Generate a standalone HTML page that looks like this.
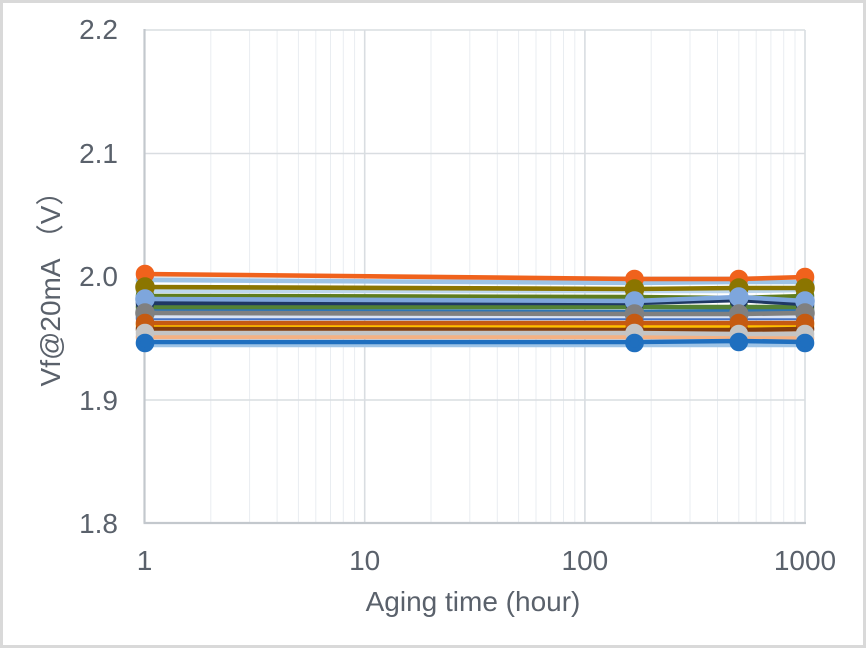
<!DOCTYPE html>
<html><head><meta charset="utf-8">
<style>
html,body{margin:0;padding:0;background:#fff;}
.wrap{position:relative;width:866px;height:648px;box-sizing:border-box;border:3px solid #d9d9d9;background:#fff;overflow:hidden;}
svg{position:absolute;left:-3px;top:-3px;}
text{font-family:"Liberation Sans","Noto Sans CJK SC",sans-serif;fill:#5a616b;}
</style></head>
<body><div class="wrap">
<svg width="866" height="648" viewBox="0 0 866 648" xmlns="http://www.w3.org/2000/svg">
<g stroke="#e9edf1" stroke-width="1">
<line x1="210.8" y1="30" x2="210.8" y2="523"/>
<line x1="249.6" y1="30" x2="249.6" y2="523"/>
<line x1="277.1" y1="30" x2="277.1" y2="523"/>
<line x1="298.4" y1="30" x2="298.4" y2="523"/>
<line x1="315.8" y1="30" x2="315.8" y2="523"/>
<line x1="330.5" y1="30" x2="330.5" y2="523"/>
<line x1="343.3" y1="30" x2="343.3" y2="523"/>
<line x1="354.6" y1="30" x2="354.6" y2="523"/>
<line x1="431.0" y1="30" x2="431.0" y2="523"/>
<line x1="469.8" y1="30" x2="469.8" y2="523"/>
<line x1="497.3" y1="30" x2="497.3" y2="523"/>
<line x1="518.6" y1="30" x2="518.6" y2="523"/>
<line x1="536.0" y1="30" x2="536.0" y2="523"/>
<line x1="550.7" y1="30" x2="550.7" y2="523"/>
<line x1="563.5" y1="30" x2="563.5" y2="523"/>
<line x1="574.8" y1="30" x2="574.8" y2="523"/>
<line x1="651.2" y1="30" x2="651.2" y2="523"/>
<line x1="690.0" y1="30" x2="690.0" y2="523"/>
<line x1="717.5" y1="30" x2="717.5" y2="523"/>
<line x1="738.8" y1="30" x2="738.8" y2="523"/>
<line x1="756.2" y1="30" x2="756.2" y2="523"/>
<line x1="770.9" y1="30" x2="770.9" y2="523"/>
<line x1="783.7" y1="30" x2="783.7" y2="523"/>
<line x1="795.0" y1="30" x2="795.0" y2="523"/>
</g>
<g stroke="#d9dde1" stroke-width="1.6">
<line x1="364.7" y1="30" x2="364.7" y2="523"/>
<line x1="584.9" y1="30" x2="584.9" y2="523"/>
<line x1="805" y1="30" x2="805" y2="523"/>
<line x1="144.5" y1="30" x2="805" y2="30"/>
<line x1="144.5" y1="153.5" x2="805" y2="153.5"/>
<line x1="144.5" y1="277" x2="805" y2="277"/>
<line x1="144.5" y1="400" x2="805" y2="400"/>
</g>
<g stroke="#c3c8cd" stroke-width="2.2">
<line x1="144.5" y1="29" x2="144.5" y2="523"/>
<line x1="143.5" y1="523" x2="806" y2="523"/>
</g>
<g font-size="28" text-anchor="end">
<text x="118" y="39">2.2</text>
<text x="118" y="163">2.1</text>
<text x="118" y="286">2.0</text>
<text x="118" y="410">1.9</text>
<text x="118" y="533">1.8</text>
</g>
<g font-size="28" text-anchor="middle">
<text x="144.5" y="570">1</text>
<text x="364.7" y="570">10</text>
<text x="584.9" y="570">100</text>
<text x="805" y="570">1000</text>
<text x="473" y="611">Aging time (hour)</text>
</g>
<text font-size="28" text-anchor="middle" transform="translate(60,282) rotate(-90)">Vf@20mA （V）</text>
<g fill="none" stroke-width="4.6" stroke-linejoin="round">
<g stroke="#9dc3e6" fill="#9dc3e6"><polyline fill="none" points="145,280 634.5,283 738.8,282 805,282"/><circle cx="145" cy="280" r="7"/><circle cx="634.5" cy="283" r="7"/><circle cx="738.8" cy="282" r="7"/><circle cx="805" cy="282" r="7"/></g>
<g stroke="#bdd7ee" fill="#bdd7ee"><polyline fill="none" points="145,291 634.5,291 738.8,291 805,290"/><circle cx="145" cy="291" r="7"/><circle cx="634.5" cy="291" r="7"/><circle cx="738.8" cy="291" r="7"/><circle cx="805" cy="290" r="7"/></g>
<g stroke="#2e75b6" fill="#2e75b6"><polyline fill="none" points="145,311 634.5,312 738.8,311 805,310"/><circle cx="145" cy="311" r="7"/><circle cx="634.5" cy="312" r="7"/><circle cx="738.8" cy="311" r="7"/><circle cx="805" cy="310" r="7"/></g>
<g stroke="#4472c4" fill="#4472c4"><polyline fill="none" points="145,318 634.5,318 738.8,318 805,318"/><circle cx="145" cy="318" r="7"/><circle cx="634.5" cy="318" r="7"/><circle cx="738.8" cy="318" r="7"/><circle cx="805" cy="318" r="7"/></g>
<g stroke="#548235" fill="#548235"><polyline fill="none" points="145,307 634.5,307 738.8,307 805,307"/><circle cx="145" cy="307" r="7"/><circle cx="634.5" cy="307" r="7"/><circle cx="738.8" cy="307" r="7"/><circle cx="805" cy="307" r="7"/></g>
<g stroke="#5f7d1e" fill="#5f7d1e"><polyline fill="none" points="145,296 634.5,297 738.8,298 805,296"/><circle cx="145" cy="296" r="7"/><circle cx="634.5" cy="297" r="7"/><circle cx="738.8" cy="298" r="7"/><circle cx="805" cy="296" r="7"/></g>
<g stroke="#1f3864" fill="#1f3864"><polyline fill="none" points="145,303 634.5,303 738.8,300 805,304"/><circle cx="145" cy="303" r="7"/><circle cx="634.5" cy="303" r="7"/><circle cx="738.8" cy="300" r="7"/><circle cx="805" cy="304" r="7"/></g>
<g stroke="#dae3f3" fill="#dae3f3"><polyline fill="none" points="145,316 634.5,316 738.8,316 805,316"/></g>
<g stroke="#ffc000" fill="#ffc000"><polyline fill="none" points="145,325 634.5,326 738.8,326 805,325"/><circle cx="145" cy="325" r="7"/><circle cx="634.5" cy="326" r="7"/><circle cx="738.8" cy="326" r="7"/><circle cx="805" cy="325" r="7"/></g>
<g stroke="#843c0c" fill="#843c0c"><polyline fill="none" points="145,329 634.5,330 738.8,330 805,329"/><circle cx="145" cy="329" r="7"/><circle cx="634.5" cy="330" r="7"/><circle cx="738.8" cy="330" r="7"/><circle cx="805" cy="329" r="7"/></g>
<g stroke="#f4b183" fill="#f4b183"><polyline fill="none" points="145,337 634.5,337 738.8,337 805,338"/><circle cx="145" cy="337" r="7"/><circle cx="634.5" cy="337" r="7"/><circle cx="738.8" cy="337" r="7"/><circle cx="805" cy="338" r="7"/></g>
<g stroke="#9dc3e6" fill="#9dc3e6"><polyline fill="none" points="145,345 634.5,345 738.8,345 805,345"/></g>
<g stroke="#f0621c" fill="#f0621c"><polyline fill="none" points="145,274 634.5,279 738.8,279 805,277"/><circle cx="145" cy="274" r="7"/><circle cx="634.5" cy="279" r="7"/><circle cx="738.8" cy="279" r="7"/><circle cx="805" cy="277" r="7"/></g>
<g stroke="#8b7500" fill="#8b7500"><polyline fill="none" points="145,287 634.5,289 738.8,288 805,288"/><circle cx="145" cy="287" r="7.5"/><circle cx="634.5" cy="289" r="7.5"/><circle cx="738.8" cy="288" r="7.5"/><circle cx="805" cy="288" r="7.5"/></g>
<g stroke="#7ea6dc" fill="#7ea6dc"><polyline fill="none" points="145,299 634.5,301 738.8,297 805,301"/><circle cx="145" cy="299" r="7.5"/><circle cx="634.5" cy="301" r="7.5"/><circle cx="738.8" cy="297" r="7.5"/><circle cx="805" cy="301" r="7.5"/></g>
<g stroke="#808080" fill="#808080"><polyline fill="none" points="145,313 634.5,314 738.8,314 805,313"/><circle cx="145" cy="313" r="7.5"/><circle cx="634.5" cy="314" r="7.5"/><circle cx="738.8" cy="314" r="7.5"/><circle cx="805" cy="313" r="7.5"/></g>
<g stroke="#c55a11" fill="#c55a11"><polyline fill="none" points="145,323 634.5,323 738.8,323 805,323"/><circle cx="145" cy="323" r="7"/><circle cx="634.5" cy="323" r="7"/><circle cx="738.8" cy="323" r="7"/><circle cx="805" cy="323" r="7"/></g>
<g stroke="#c4c4c4" fill="#c4c4c4"><polyline fill="none" points="145,333 634.5,333 738.8,334 805,334"/><circle cx="145" cy="333" r="7"/><circle cx="634.5" cy="333" r="7"/><circle cx="738.8" cy="334" r="7"/><circle cx="805" cy="334" r="7"/></g>
<g stroke="#1f6fbf" fill="#1f6fbf"><polyline fill="none" points="145,342 634.5,342 738.8,341 805,342"/><circle cx="145" cy="343" r="7"/><circle cx="634.5" cy="343" r="7"/><circle cx="738.8" cy="342" r="7"/><circle cx="805" cy="343" r="7"/></g>
</g>
</svg>
</div></body></html>
